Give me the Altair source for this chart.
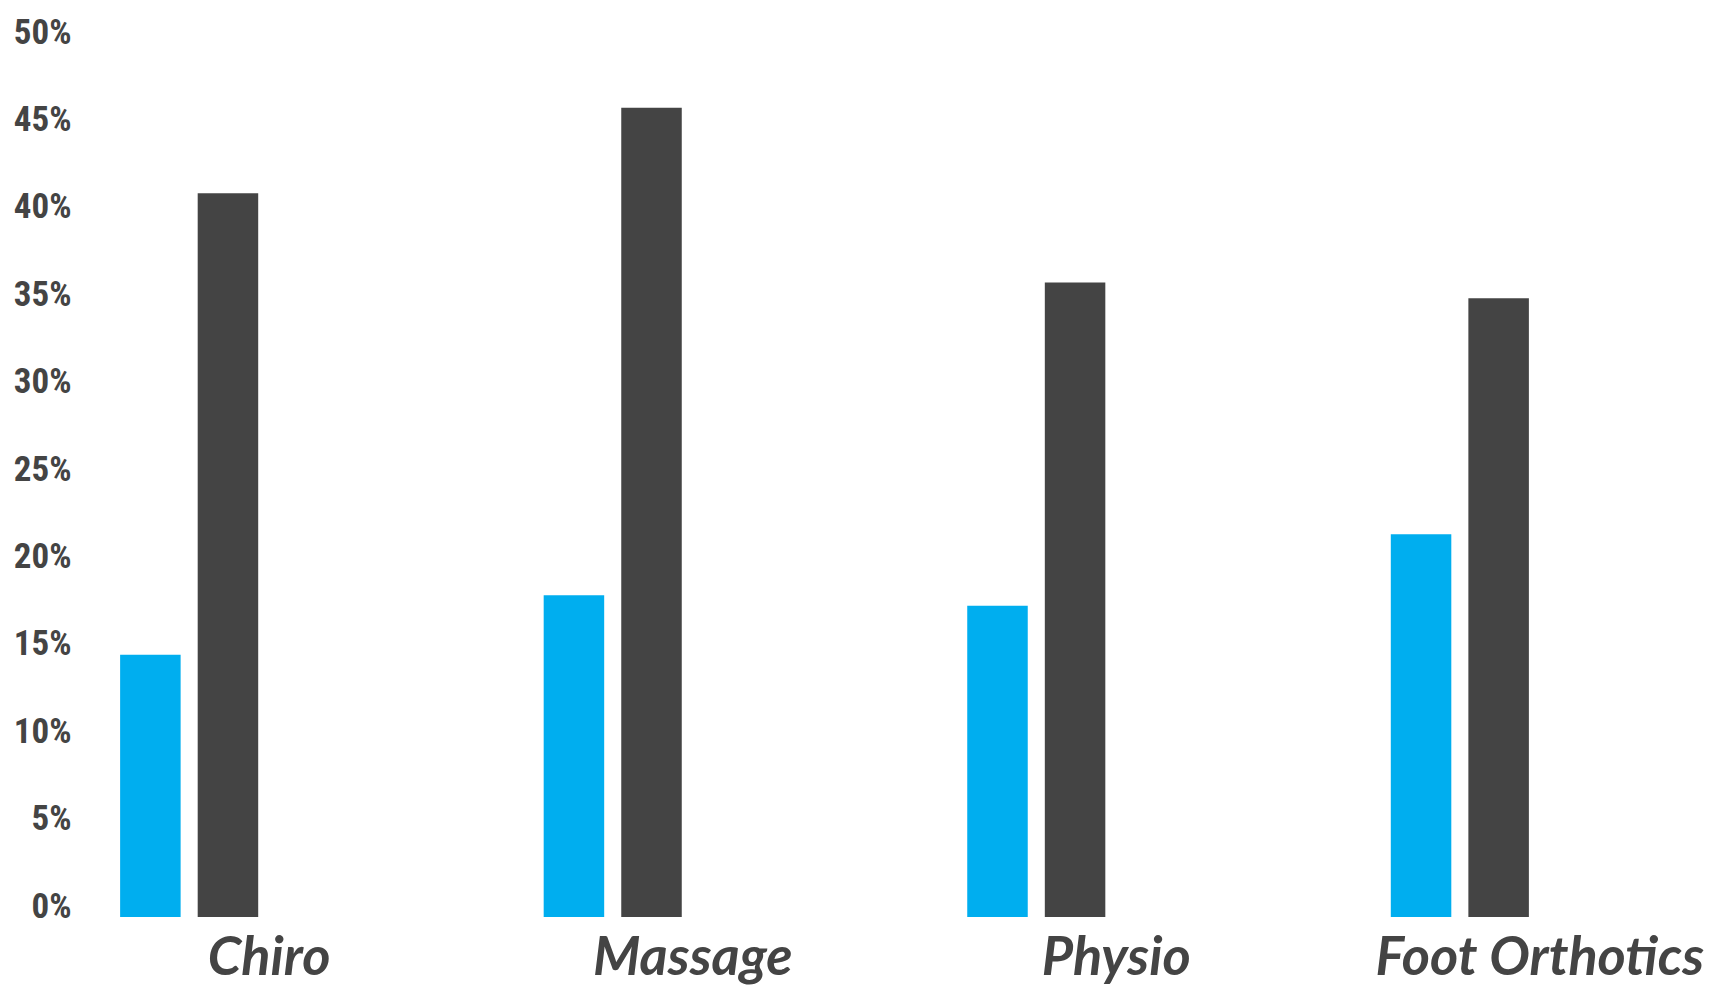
import altair as alt
import pandas as pd

categories = ["Chiro", "Massage", "Physio", "Foot Orthotics"]
series_names = ["Series 1", "Series 2"]
series1_values = [0.150, 0.184, 0.178, 0.219]
series2_values = [0.414, 0.463, 0.363, 0.354]
y_ticks = [0, 0.05, 0.10, 0.15, 0.20, 0.25, 0.30, 0.35, 0.40, 0.45, 0.50]
colors = ["#00AEEF", "#444444"]

rows = []
for c, a, b in zip(categories, series1_values, series2_values):
    rows.append({"category": c, "series": series_names[0], "value": a})
    rows.append({"category": c, "series": series_names[1], "value": b})
df = pd.DataFrame(rows)

chart = alt.Chart(df).mark_bar(stroke=None).encode(
    x=alt.X("category:N", sort=categories, title=None,
            scale=alt.Scale(paddingInner=0.674, paddingOuter=0.09),
            axis=alt.Axis(labelAngle=0, domain=False, ticks=False, labelLimit=0,
                          labelFont="Lato", labelFontSize=54, labelFontStyle="italic",
                          labelFontWeight="bold", labelColor="#444444",
                          labelBaseline="top", labelPadding=14, labelOffset=80)),
    xOffset=alt.XOffset("series:N", sort=series_names,
                        scale=alt.Scale(paddingInner=0.22, paddingOuter=0)),
    y=alt.Y("value:Q", title=None,
            scale=alt.Scale(domain=[0, 0.5], nice=False),
            axis=alt.Axis(values=y_ticks, format=".0%", domain=False, ticks=False, grid=False,
                          labelFont="Roboto Condensed, Roboto", labelFontSize=35,
                          labelFontWeight="bold", labelColor="#444444",
                          labelBaseline="alphabetic", labelPadding=11)),
    color=alt.Color("series:N", sort=series_names,
                    scale=alt.Scale(domain=series_names, range=colors), legend=None),
).properties(
    width=1485, height=874,
    padding={"left": 5, "top": 7, "right": 5, "bottom": 5}
).configure_view(stroke=None)

chart.save("out.html", embed_options={"renderer": "svg", "actions": False})
